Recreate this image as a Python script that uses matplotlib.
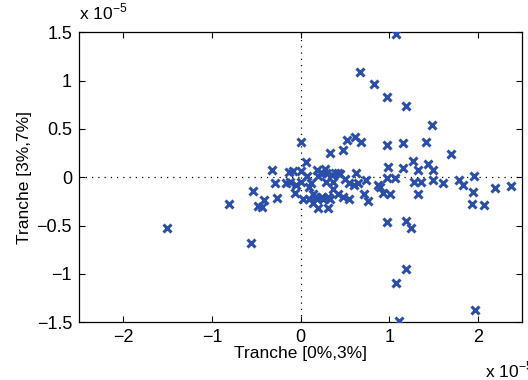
import numpy as np
import matplotlib.pyplot as plt

plt.rcParams['font.family'] = ['Liberation Sans', 'DejaVu Sans']
plt.rcParams['mathtext.fontset'] = 'custom'
plt.rcParams['mathtext.rm'] = 'Liberation Sans'

# values in units of 1e-5
tranche_0_3 = [1.08, 0.67, 0.83, 0.98, 1.19, 1.48, 0.00, 0.52, 0.61, 0.68,
               0.98, 1.15, 1.42, 1.70, 0.33, 0.48, 0.06, 1.27, 1.44, 1.49,
               0.99, 1.15, 1.33, -0.32, 1.96, 2.37, 2.19, 1.95, 1.93, 2.07,
               1.79, 1.83, 1.61, 1.49, 1.36, 1.28, 1.32, 1.07, 0.98, 1.01,
               0.93, 0.87, 0.76, 0.71, 0.74, 0.65, 0.55, 0.55, 0.48, 0.42,
               0.98, 1.19, 1.24, 1.19, 1.08, 1.11, 1.97, -1.51, -0.56, -0.81,
               -0.54, -0.48, -0.41, -0.29, -0.27,
               -0.13, -0.08, 0.01, -0.17, -0.12, -0.06, -0.05, 0.01, 0.03, 0.09,
               0.10, 0.14, 0.12, 0.18, 0.20, 0.19, 0.20, 0.24, 0.24, 0.27,
               0.29, 0.29, 0.31, 0.31, 0.33, 0.35, 0.37, 0.39, 0.42, 0.25,
               0.07, 0.14, 0.45, 0.50, 0.60, 0.90, 0.62, 0.36, 0.16, -0.44]
tranche_3_7 = [1.48, 1.09, 0.97, 0.83, 0.74, 0.54, 0.36, 0.39, 0.42, 0.37,
               0.33, 0.35, 0.37, 0.24, 0.25, 0.28, 0.16, 0.17, 0.14, 0.08,
               0.11, 0.10, 0.08, 0.08, 0.01, -0.09, -0.11, -0.15, -0.28, -0.29,
               -0.03, -0.08, -0.06, -0.03, -0.05, -0.05, -0.17, -0.01, -0.01, -0.17,
               -0.16, -0.08, -0.25, -0.17, -0.03, -0.06, -0.06, -0.23, -0.20, -0.17,
               -0.46, -0.45, -0.52, -0.95, -1.09, -1.49, -1.37, -0.52, -0.68, -0.28,
               -0.14, -0.30, -0.24, -0.06, -0.21,
               0.05, 0.06, 0.07, -0.06, -0.05, -0.16, -0.08, -0.05, -0.23, -0.10,
               -0.23, -0.17, -0.06, 0.08, 0.01, -0.23, -0.32, -0.20, 0.04, 0.09,
               0.04, -0.05, -0.20, -0.32, -0.23, 0.02, -0.05, 0.04, 0.04, -0.23,
               0.01, -0.27, 0.03, -0.02, -0.08, -0.10, 0.04, -0.12, -0.20, -0.31]

fig = plt.figure(figsize=(5.28, 3.8), dpi=100)
ax = fig.add_axes([0.1496, 0.152, 0.8394, 0.763])

ax.axhline(0, color='black', linestyle=(0, (1, 4)), linewidth=0.9, zorder=1)
ax.axvline(0, color='black', linestyle=(0, (1, 4)), linewidth=0.9, zorder=1)
ax.plot(tranche_0_3, tranche_3_7, linestyle='none', marker='x', markersize=6,
        markeredgewidth=2.2, color='#2b4fa8', zorder=3)

ax.set_xlim(-2.5, 2.5)
ax.set_ylim(-1.5, 1.5)
ax.set_xticks([-2, -1, 0, 1, 2])
ax.set_xticklabels(['\u22122', '\u22121', '0', '1', '2'])
ax.set_yticks([-1.5, -1, -0.5, 0, 0.5, 1, 1.5])
ax.set_yticklabels(['\u22121.5', '\u22121', '\u22120.5', '0', '0.5', '1', '1.5'])
ax.tick_params(direction='in', top=True, right=True, length=4, width=0.8,
               labelsize=13, pad=5)
for s in ax.spines.values():
    s.set_linewidth(0.9)

ax.set_xlabel('Tranche [0%,3%]', fontsize=12.5, labelpad=0)
ax.set_ylabel('Tranche [3%,7%]', fontsize=12.5, labelpad=3)

fig.text(0.150, 0.94, r'x 10$^{-5}$', fontsize=12.5, ha='left', va='bottom')
fig.text(0.918, 0.0, r'x 10$^{-5}$', fontsize=12.5, ha='left', va='bottom')

plt.savefig('out.png', dpi=100)
